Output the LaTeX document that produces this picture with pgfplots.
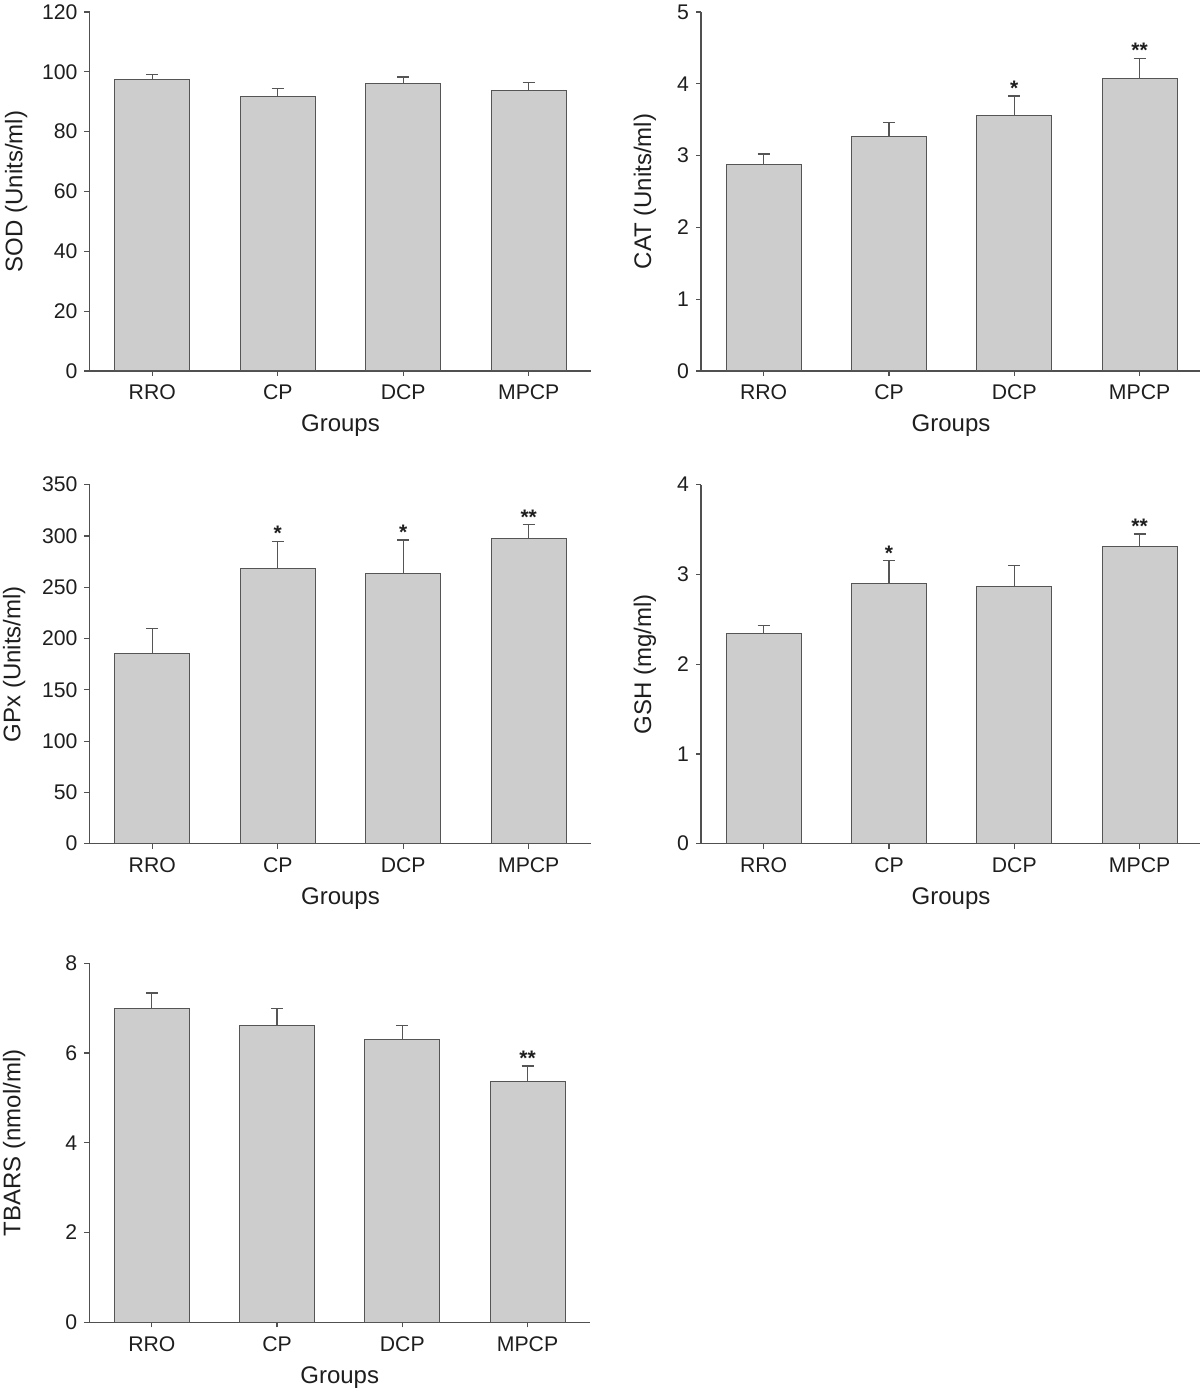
\documentclass[border=0pt]{standalone}
\usepackage{pgfplots}
\pgfplotsset{compat=1.18}
\usepackage{fontspec}
\setmainfont{Liberation Sans}
\definecolor{barfill}{RGB}{205,205,205}
\definecolor{baredge}{RGB}{85,85,85}
\definecolor{axcol}{RGB}{80,80,80}
\definecolor{txt}{RGB}{30,30,30}
\pgfplotsset{
  panel/.style={
    scale only axis,
    axis lines=left,
    axis line style={-, draw=axcol, line width=0.6pt},
    xmin=-0.5, xmax=3.5, ymin=0,
    xtick={0,1,2,3},
    xticklabels={RRO,CP,DCP,MPCP},
    xtick pos=left, ytick pos=left,
    tick align=outside,
    major tick length=2.5pt,
    tick style={draw=axcol, line width=0.6pt},
    /pgf/number format/assume math mode=true,
    ticklabel style={font=\fontsize{10.6}{12}\selectfont, text=txt},
    xticklabel style={yshift=-1pt},
    label style={font=\fontsize{12}{14}\selectfont, text=txt},
    xlabel={Groups},
    xlabel style={at={(axis description cs:0.5,0)}, anchor=center, yshift=-27.5pt},
    height=179.5pt,
    clip=false,
  },
  bars/.style={
    ybar, bar width=37.5pt, bar shift=0pt,
    fill=barfill, draw=baredge, line width=0.5pt,
    error bars/.cd, y dir=plus, y explicit,
    error bar style={draw=baredge, line width=0.6pt},
    error mark options={rotate=90, mark size=3pt, draw=baredge, line width=0.6pt},
  },
  stars/.style={
    draw=none, mark=none,
    nodes near coords, point meta=explicit symbolic,
    nodes near coords style={anchor=south, inner sep=0pt, font=\bfseries\fontsize{10.5}{12}\selectfont, text=txt},
  },
}
\begin{document}
\begin{tikzpicture}
\useasboundingbox (0,0) rectangle (600pt,694pt);
% SOD
\begin{axis}[panel, at={(44.75pt,508.5pt)}, anchor=south west, width=251pt,
  ymax=120, ytick={0,20,...,120},
  ylabel={SOD (Units/ml)},
  ylabel style={at={(axis description cs:-0.146,0.5)}, anchor=center}]
\addplot[bars] coordinates {(0,97.6) +- (0,1.4) (1,91.9) +- (0,2.4) (2,96.0) +- (0,2.3) (3,93.9) +- (0,2.5)};
\end{axis}
% CAT
\begin{axis}[panel, at={(350.5pt,508.5pt)}, anchor=south west, width=250pt, xmax=3.49,
  ymax=5, ytick={0,1,...,5},
  ylabel={CAT (Units/ml)},
  ylabel style={at={(axis description cs:-0.112,0.5)}, anchor=center}]
\addplot[bars] coordinates {(0,2.876) +- (0,0.145) (1,3.27) +- (0,0.19) (2,3.56) +- (0,0.27) (3,4.075) +- (0,0.28)};
\addplot[stars] coordinates {(2,3.83)[*] (3,4.355)[**]};
\end{axis}
% GPx
\begin{axis}[panel, at={(44.75pt,272.15pt)}, anchor=south west, width=251pt,
  ymax=350, ytick={0,50,...,350},
  ylabel={GPx (Units/ml)},
  ylabel style={at={(axis description cs:-0.150,0.5)}, anchor=center}]
\addplot[bars] coordinates {(0,185) +- (0,24.5) (1,268) +- (0,27) (2,263) +- (0,33) (3,298) +- (0,13)};
\addplot[stars] coordinates {(1,295)[*] (2,296)[*] (3,311)[**]};
\end{axis}
% GSH
\begin{axis}[panel, at={(350.5pt,272.15pt)}, anchor=south west, width=250pt, xmax=3.49,
  ymax=4, ytick={0,1,...,4},
  ylabel={GSH (mg/ml)},
  ylabel style={at={(axis description cs:-0.112,0.5)}, anchor=center}]
\addplot[bars] coordinates {(0,2.342) +- (0,0.088) (1,2.90) +- (0,0.256) (2,2.87) +- (0,0.23) (3,3.316) +- (0,0.134)};
\addplot[stars] coordinates {(1,3.156)[*] (3,3.45)[**]};
\end{axis}
% TBARS
\begin{axis}[panel, at={(44.6pt,32.85pt)}, anchor=south west, width=250.5pt,
  ymax=8, ytick={0,2,...,8},
  ylabel={TBARS (nmol/ml)},
  ylabel style={at={(axis description cs:-0.150,0.5)}, anchor=center}]
\addplot[bars] coordinates {(0,6.99) +- (0,0.35) (1,6.62) +- (0,0.37) (2,6.30) +- (0,0.31) (3,5.37) +- (0,0.34)};
\addplot[stars] coordinates {(3,5.71)[**]};
\end{axis}
\end{tikzpicture}
\end{document}
